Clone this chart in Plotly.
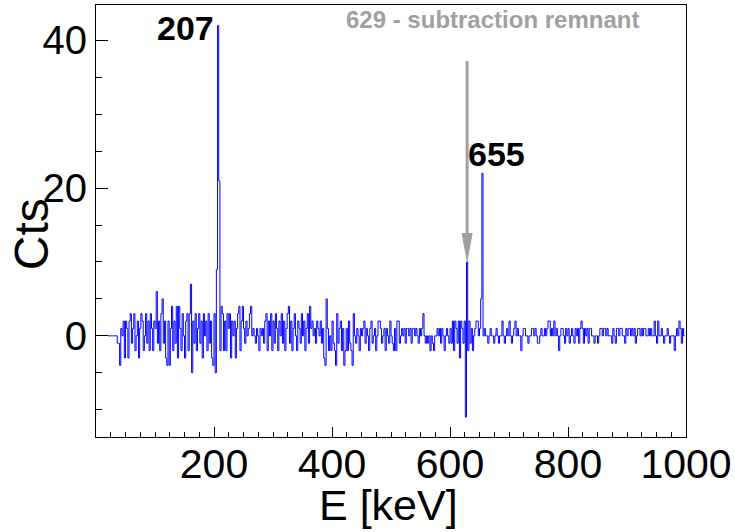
import plotly.graph_objects as go

# ---- data: background-subtracted spectrum, 2 keV bins starting at 20 keV ----
BIN_START = 20
BIN_WIDTH = 2

counts_020_098 = [0, 0, 0, 0, 0, 0, 0, 0, -1, -1, -4, 1, 0, 2, -3, 2, 1, -3, 2, 3,
                  -1, 1, 3, -2, 0, 2, -3, 1, 3, 2, -2, 0, 3, -1, 2, -2, 3, 1, -2, 2]
counts_100_198 = [1, 6, -1, 2, -2, 3, 5, -1, 2, -3, -4, 2, -4, 1, 4, -2, 2, -1, 4, -3,
                  4, 1, -2, 3, 0, -3, 2, 3, -2, 3, 7, -5, 2, -1, 3, -2, 1, 3, -1, 2,
                  -3, 3, 0, 2, -2, 3, -1, 2, -3, -4]
counts_200_298 = [3, -5, 9, 42, 21, -2, 4, 3, -2, 2, -2, 3, 1, 3, -3, 2, 0, 2, -3, 1,
                  3, 4, -2, 2, 4, 1, -1, 2, 0, 1, 3, 4, 0, 1, 0, -1, 1, 0, -2, 1,
                  0, 1, -1, 2, 3, -2, 2, 0, 3, -2]
counts_300_398 = [2, -1, 3, 1, -2, 2, 0, 3, -1, 2, -2, 1, 3, 4, -1, 2, -2, 1, 3, 0,
                  -2, 2, 1, -1, 3, 0, 2, -2, 1, 3, -1, 4, 1, 2, 0, 1, -1, 2, 1, 0,
                  2, -1, 1, -3, -4, 5, 1, -2, 0, -2]
counts_400_498 = [2, -1, -2, -4, 3, -1, 1, 2, -2, 1, -4, -2, 1, -2, 2, -1, -2, -4, 3, 0,
                  -1, 1, 0, -2, 1, 0, 1, 2, -1, 1, 0, -2, 1, 2, -1, 0, 1, -2, 0, 2,
                  2, 1, -1, 0, 1, -2, 1, 0, -1, 2]
counts_500_598 = [0, -1, -2, 1, -2, 2, 2, -1, 0, 1, 0, 1, -1, 1, 1, 0, 1, -1, 1, 1,
                  0, 1, 0, -1, 1, 0, 1, 3, 0, -1, 0, -1, 0, -2, 0, -1, -2, 0, 0, 1,
                  0, 1, -1, 1, 0, -2, 0, 1, 0, -1]
counts_600_698 = [1, -1, 2, -2, 2, 1, -1, 2, -3, 2, 1, -1, 2, -11, 10, -2, 2, -1, 1, -2,
                  0, 1, 2, 2, 0, 1, 5, 22, 0, 1, 0, 0, -1, 0, 1, 0, 0, -1, 0, 1,
                  0, -1, 0, 0, 2, 0, -1, 0, 1, 0]
counts_700_798 = [2, 0, -1, 0, 1, 2, 0, 1, 0, 0, -2, 0, 1, 1, 0, 0, -1, 0, 0, 1,
                  1, 0, 1, 0, -1, -1, 0, 1, 0, 0, 1, 0, 1, 2, 2, 0, 1, 0, 2, 0,
                  1, 0, -2, 0, 1, 1, 0, -1, 1, 0]
counts_800_898 = [1, -1, 0, 1, 0, -1, 1, 0, 1, -1, 1, 2, 1, -1, 1, 0, 1, -1, 1, 1,
                  0, 0, -1, 0, 0, -1, 0, 1, 1, 0, 1, 1, 0, 1, 0, 0, 0, -1, 1, 0,
                  -1, 1, 1, 0, 1, 1, 0, 0, -1, 1]
counts_900_996 = [0, 1, 1, 0, 1, 0, 1, -1, 0, 1, 1, 0, 1, 0, 1, 1, 0, 0, 1, 0,
                  1, 0, 0, 2, 0, -1, 2, 0, 0, 1, 0, -1, 0, 0, 1, 0, -1, 0, 0, 0,
                  -2, 0, 1, 0, 2, 1, -1, 1, 0]

x_tick_values = [200, 400, 600, 800, 1000]
x_tick_labels = ["200", "400", "600", "800", "1000"]
y_tick_values = [0, 20, 40]
y_tick_labels = ["0", "20", "40"]

peak_labels = ["207", "655"]
peak_label_x = [151, 678]
peak_label_y = [41.7, 24.6]

remnant_energy = 629
remnant_tip = 10.2
remnant_tail = 37.2
remnant_text = "629 - subtraction remnant"
remnant_text_x = 672
remnant_text_y = 42.8

# ---- build ----
counts = (counts_020_098 + counts_100_198 + counts_200_298 + counts_300_398 +
          counts_400_498 + counts_500_598 + counts_600_698 + counts_700_798 +
          counts_800_898 + counts_900_996)
edges = [BIN_START + BIN_WIDTH * i for i in range(len(counts) + 1)]
step_y = counts + [counts[-1]]

FONT = "Liberation Sans, Arial, sans-serif"
GRAY = "#a0a0a0"

# plot-area geometry (pixels) for arrow-head sizing
PLOT_L, PLOT_R, PLOT_T, PLOT_B = 96, 686, 5, 437
X_RANGE = [0, 1000]
Y_RANGE = [-13.7, 44.8]
kev_per_px = (X_RANGE[1] - X_RANGE[0]) / (PLOT_R - PLOT_L)
cts_per_px = (Y_RANGE[1] - Y_RANGE[0]) / (PLOT_B - PLOT_T)
head_half_w = 5 * kev_per_px
head_len = 27 * cts_per_px

fig = go.Figure()
fig.add_trace(go.Scatter(x=edges, y=step_y, mode="lines", line_shape="hv",
                         line=dict(color="#0000ff", width=1), hoverinfo="skip",
                         showlegend=False))

# arrow: shaft + narrow triangular head
fig.add_shape(type="line", xref="x", yref="y",
              x0=remnant_energy, x1=remnant_energy,
              y0=remnant_tail, y1=remnant_tip + head_len * 0.9,
              line=dict(color=GRAY, width=3))
fig.add_shape(type="path", xref="x", yref="y",
              path=(f"M {remnant_energy - head_half_w},{remnant_tip + head_len} "
                    f"L {remnant_energy + head_half_w},{remnant_tip + head_len} "
                    f"L {remnant_energy},{remnant_tip} Z"),
              fillcolor=GRAY, line=dict(color=GRAY, width=1))

annotations = []
for txt, xx, yy in zip(peak_labels, peak_label_x, peak_label_y):
    annotations.append(dict(x=xx, y=yy, xref="x", yref="y", text="<b>" + txt + "</b>",
                            showarrow=False, font=dict(family=FONT, size=34, color="black"),
                            xanchor="center", yanchor="middle"))
annotations.append(dict(x=remnant_text_x, y=remnant_text_y, xref="x", yref="y",
                        text="<b>" + remnant_text + "</b>", showarrow=False,
                        font=dict(family=FONT, size=24, color=GRAY),
                        xanchor="center", yanchor="middle"))
annotations.append(dict(x=0.495, y=-0.158, xref="paper", yref="paper", text="E [keV]",
                        showarrow=False, font=dict(family=FONT, size=43, color="black"),
                        xanchor="center", yanchor="middle"))
annotations.append(dict(x=-0.108, y=0.47, xref="paper", yref="paper", text="Cts",
                        textangle=-90, showarrow=False,
                        font=dict(family=FONT, size=48, color="black"),
                        xanchor="center", yanchor="middle"))

fig.update_layout(
    width=735, height=532,
    margin=dict(l=PLOT_L, r=735 - PLOT_R, t=PLOT_T, b=532 - PLOT_B, autoexpand=False),
    paper_bgcolor="white", plot_bgcolor="white",
    annotations=annotations,
    xaxis=dict(range=X_RANGE, showline=True, linecolor="black", linewidth=1,
               mirror=True, ticks="inside", ticklen=10, tickwidth=1, tickcolor="black",
               tickmode="array", tickvals=x_tick_values, ticktext=x_tick_labels,
               tickfont=dict(family=FONT, size=41, color="black"),
               ticklabelstandoff=-9, automargin=False,
               minor=dict(ticks="inside", ticklen=5, tickcolor="black", dtick=25, tick0=0),
               showgrid=False, zeroline=False),
    yaxis=dict(range=Y_RANGE, showline=True, linecolor="black", linewidth=1,
               mirror=True, ticks="inside", ticklen=12, tickwidth=1, tickcolor="black",
               tickmode="array", tickvals=y_tick_values, ticktext=y_tick_labels,
               tickfont=dict(family=FONT, size=40, color="black"),
               ticklabelstandoff=0, automargin=False,
               minor=dict(ticks="inside", ticklen=6, tickcolor="black", dtick=5, tick0=0),
               showgrid=False, zeroline=False),
)

fig.write_html("out.html")
